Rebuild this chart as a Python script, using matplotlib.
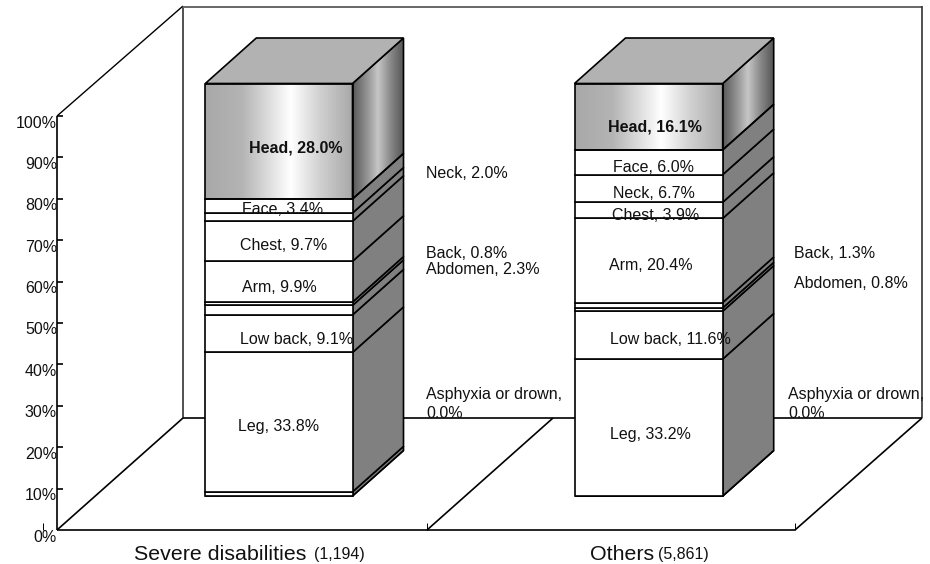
import numpy as np
import matplotlib
matplotlib.use("Agg")
import matplotlib.pyplot as plt
from matplotlib.colors import LinearSegmentedColormap
from matplotlib.patches import Polygon

# ---- data ----
tick_labels = ["0%", "10%", "20%", "30%", "40%", "50%", "60%", "70%", "80%", "90%", "100%"]
tick_values = [0, 10, 20, 30, 40, 50, 60, 70, 80, 90, 100]
parts = ["Asphyxia or drown", "Other", "Leg", "Low back", "Abdomen", "Back",
         "Arm", "Chest", "Neck", "Face", "Head"]
severe_values = [0.0, 1.0, 33.8, 9.1, 2.3, 0.8, 9.9, 9.7, 2.0, 3.4, 28.0]
others_values = [0.0, 0.0, 33.2, 11.6, 0.8, 1.3, 20.4, 3.9, 6.7, 6.0, 16.1]
category_names = ["Severe disabilities", "Others"]
category_counts = ["(1,194)", "(5,861)"]

# ---- layout (pixel space of the 930x564 figure) ----
W, H = 930, 564
plt.rcParams["font.family"] = ["Liberation Sans", "DejaVu Sans"]
fig = plt.figure(figsize=(W / 100, H / 100), dpi=100, facecolor="white")
ax = fig.add_axes([0, 0, 1, 1])
ax.set_xlim(0, W)
ax.set_ylim(H, 0)
ax.axis("off")

LW = 1.2
FS = 11.5
INK = "#000000"
TXT = "#111111"

BAR_BASE, BAR_PX = 496.0, 4.125
WALL_BASE, WALL_PX = 530.0, 4.14
DX, DY = 51.0, 45.5


def bar_y(p):
    return BAR_BASE - BAR_PX * p


def wall_y(p):
    return WALL_BASE - WALL_PX * p


def line(xs, ys, z=1, lw=LW, color=INK):
    ax.plot(xs, ys, color=color, lw=lw, zorder=z, solid_capstyle="butt")


# walls and floor
floor_dx, floor_dy = 126, 112
top_y = wall_y(100)
back_x = 57 + floor_dx
right_x = 795 + floor_dx + 1
floor_y = WALL_BASE - floor_dy
line([57, 57], [top_y, WALL_BASE])
line([57, 795], [WALL_BASE, WALL_BASE])
line([57, back_x], [top_y, 6], lw=1.0)
line([back_x, back_x], [6, floor_y], color="#333333")
line([back_x, right_x], [6.5, 6.5], lw=1.4, color="#666666")
line([right_x, right_x], [6, floor_y], lw=1.2, color="#333333")
line([back_x, right_x], [floor_y, floor_y])
for x0 in (57, 427, 795):
    line([x0, x0 + floor_dx + (1 if x0 == 795 else 0)], [WALL_BASE, floor_y])

for v, lab in zip(tick_values, tick_labels):
    y = wall_y(v)
    if v > 0:
        line([57, 63], [y, y])
    ax.text(57, y + 7, lab, ha="right", va="center", fontsize=FS, color=TXT, zorder=5)
for x in (43, 427, 795):
    line([x, x], [522.5, 530], lw=0.7)

head_front = LinearSegmentedColormap.from_list(
    "hf", [(0, "#a8a8a8"), (0.25, "#b4b4b4"), (0.58, "#ffffff"), (0.78, "#d0d0d0"), (1, "#a8a8a8")])
head_side = LinearSegmentedColormap.from_list(
    "hs", [(0, "#5a5a5a"), (0.3, "#9a9a9a"), (0.48, "#c6c6c6"), (0.72, "#8a8a8a"), (1, "#505050")])


def gradient(poly, cmap, x0, x1, y0, y1, z):
    g = np.linspace(0, 1, 256).reshape(1, -1)
    im = ax.imshow(g, cmap=cmap, extent=(x0, x1, y1, y0), aspect="auto", zorder=z, vmin=0, vmax=1)
    im.set_clip_path(poly)


def draw_bar(x0, x1, values):
    z = 2
    edges = np.concatenate([[0.0], np.cumsum(values)])
    n = len(values)
    for i in range(n):
        lo, hi = bar_y(edges[i]), bar_y(edges[i + 1])
        is_head = parts[i] == "Head"
        side = Polygon([(x1, lo), (x1 + DX, lo - DY), (x1 + DX, hi - DY), (x1, hi)],
                       closed=True, fc="#808080", ec=INK, lw=LW, zorder=z + 0.2)
        ax.add_patch(side)
        front = Polygon([(x0, lo), (x1, lo), (x1, hi), (x0, hi)],
                        closed=True, fc="white", ec=INK, lw=LW, zorder=z + 0.2)
        ax.add_patch(front)
        if is_head:
            side.set_facecolor("none")
            front.set_facecolor("none")
            side.set_zorder(z + 0.3)
            front.set_zorder(z + 0.3)
            gradient(front, head_front, x0, x1, hi, lo, z + 0.1)
            gradient(side, head_side, x1, x1 + DX, hi - DY, lo, z + 0.1)
    t = bar_y(edges[-1])
    ax.add_patch(Polygon([(x0, t), (x0 + DX, t - DY), (x1 + DX, t - DY), (x1, t)],
                         closed=True, fc="#b2b2b2", ec=INK, lw=LW, zorder=z + 0.3))


ax_x = [(205.3, 352.5), (574.5, 722.7)]
draw_bar(*ax_x[0], severe_values)
draw_bar(*ax_x[1], others_values)


def label(x, y, s, **kw):
    kw.setdefault("ha", "center")
    ax.text(x, y, s, va="center", fontsize=kw.pop("fs", FS), color=TXT, zorder=6, **kw)


def pct(values, name):
    return f"{name}, {values[parts.index(name)]:.1f}%"


# labels on the left bar
label(296, 148, pct(severe_values, "Head"), fontweight="bold")
label(283, 209, pct(severe_values, "Face"))
label(284, 246, pct(severe_values, "Chest"))
label(279, 287, pct(severe_values, "Arm"))
label(297, 339, pct(severe_values, "Low back"))
label(279, 427, pct(severe_values, "Leg"))
label(426, 174, pct(severe_values, "Neck"), ha="left")
label(426, 253, pct(severe_values, "Back"), ha="left")
label(426, 269, pct(severe_values, "Abdomen"), ha="left")
label(426, 395, parts[0] + ",", ha="left")
label(426, 414, f"{severe_values[0]:.1f}%", ha="left")

# labels on the right bar
label(655, 127, pct(others_values, "Head"), fontweight="bold")
label(653, 167, pct(others_values, "Face"))
label(654, 193, pct(others_values, "Neck"))
label(656, 215, pct(others_values, "Chest"))
label(651, 265, pct(others_values, "Arm"))
label(670, 340, pct(others_values, "Low back"))
label(650, 434, pct(others_values, "Leg"))
label(794, 254, pct(others_values, "Back"), ha="left")
label(794, 283, pct(others_values, "Abdomen"), ha="left")
label(788, 394, parts[0] + ",", ha="left")
label(788, 413, f"{others_values[0]:.1f}%", ha="left")

# category labels
label(134, 554, category_names[0], ha="left", fs=15.4)
label(314, 554, category_counts[0], ha="left", fs=FS)
label(590, 554, category_names[1], ha="left", fs=15.4)
label(658, 554, category_counts[1], ha="left", fs=FS)

fig.savefig("out.png", dpi=100, facecolor="white")
